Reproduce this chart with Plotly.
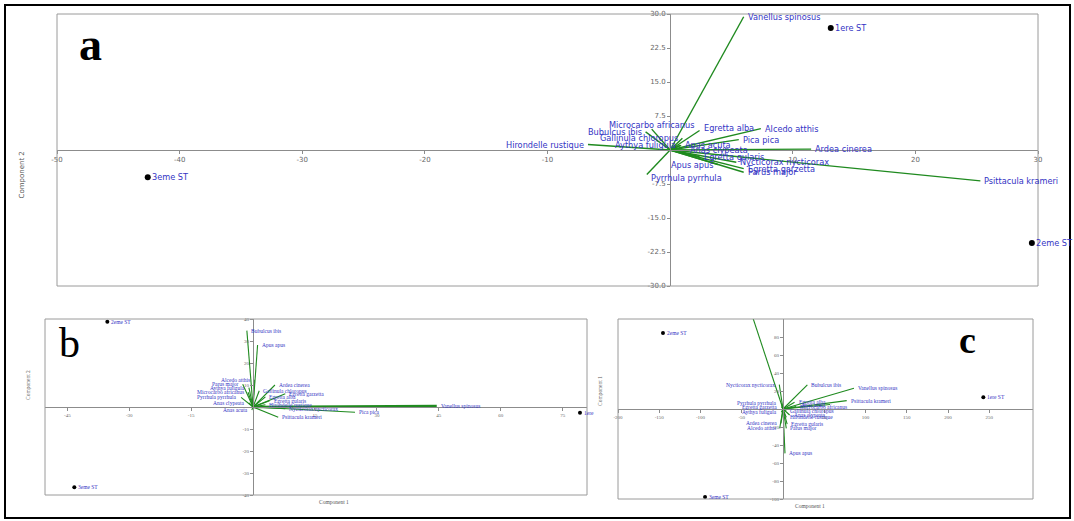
import plotly.graph_objects as go

W, H = 1074, 521

# ---------------- Panel a data ----------------
A_species = ["Vanellus spinosus", "Microcarbo africanus", "Egretta alba", "Alcedo atthis",
             "Bubulcus ibis", "Pica pica", "Gallinula chloropus", "Hirondelle rustique",
             "Aythya fuligula", "Anas acuta", "Anas clypeata", "Ardea cinerea",
             "Egretta gularis", "Nycticorax nycticorax", "Apus apus", "Egretta garzetta",
             "Parus major", "Pyrrhula pyrrhula", "Psittacula krameri"]
A_x = [6.0, -1.5, 2.4, 7.4, -2.0, 5.6, 1.0, -6.7, 0.8, 0.9, 1.3, 11.5, 2.4, 5.4, 3.9, 6.0, 6.0, -1.9, 25.3]
A_y = [29.4, 4.6, 4.3, 4.7, 4.0, 2.3, 2.6, 1.2, 1.0, 1.0, -0.1, 0.2, -1.5, -2.7, -3.2, -4.1, -4.9, -5.4, -6.8]
A_side = ["l", "c", "l", "l", "r", "l", "r", "r", "r", "l", "l", "l", "l", "l", "r", "l", "l", "l", "l"]
A_sites = ["1ere ST", "2eme ST", "3eme ST"]
A_site_x = [13.1, 29.5, -42.6]
A_site_y = [26.9, -20.5, -6.0]
A_xticks = [-50, -40, -30, -20, -10, 10, 20, 30]
A_yticks = [-30, -22.5, -15, -7.5, 7.5, 15, 22.5, 30]

# ---------------- Panel b data ----------------
B_species = ["Bubulcus ibis", "Apus apus", "Alcedo atthis", "Parus major", "Aythya fuligula",
             "Microcarbo africanus", "Pyrrhula pyrrhula", "Anas clypeata", "Anas acuta",
             "Ardea cinerea", "Gallinula chloropus", "Egretta garzetta", "Egretta alba",
             "Egretta gularis", "Hirondelle rustique", "Nycticorax nycticorax", "Pica pica",
             "Psittacula krameri", "Vanellus spinosus"]
B_x = [-1.5, 1.1, 0.3, -2.5, -1.0, -1.2, -2.9, -1.0, -0.3, 5.3, 1.5, 7.8, 3.0, 4.0, 3.0, 7.8, 24.7, 6.1, 44.5]
B_y = [34.7, 28.2, 12.4, 10.3, 8.8, 6.7, 4.4, 1.9, -1.4, 10.0, 7.4, 6.0, 4.6, 2.8, 1.0, -0.8, -2.4, -4.7, 0.4]
B_side = ["l", "l", "r", "r", "r", "r", "r", "r", "r", "l", "l", "l", "l", "l", "l", "l", "l", "l", "l"]
B_sites = ["2eme ST", "3eme ST", "1ere"]
B_site_x = [-35.3, -43.3, 79.2]
B_site_y = [38.8, -36.5, -2.6]
B_xticks = [-45, -30, -15, 15, 30, 45, 60, 75]
B_yticks = [-40, -30, -20, -10, 10, 20, 30, 40]

# ---------------- Panel c data ----------------
C_species = ["", "Nycticorax nycticorax", "Bubulcus ibis", "Vanellus spinosus", "Psittacula krameri",
             "Apus apus", "Pyrrhula pyrrhula", "Egretta garzetta", "Aythya fuligula", "Ardea cinerea",
             "Alcedo atthis", "Egretta alba", "Microcarbo africanus", "Gallinula chloropus",
             "Anas clypeata", "Hirondelle rustique", "Egretta gularis", "Parus major", "Anas acuta"]
C_x = [-40.0, -4.5, 29.5, 86.0, 77.2, 2.4, -2.0, -2.0, -2.0, -2.5, -4.0, 14.0, 16.0, 4.0, 8.0, 4.0, 5.0, 4.0, 57.0]
C_y = [111.0, 27.0, 26.7, 23.0, 9.3, -49.3, 6.3, 2.6, -3.7, -16.0, -21.5, 7.4, 2.6, -1.7, -6.7, -9.3, -16.7, -21.5, 5.0]
C_side = ["l", "r", "l", "l", "l", "l", "r", "r", "r", "r", "r", "l", "l", "l", "l", "l", "l", "l", "r"]
C_sites = ["2eme ST", "3eme ST", "1ere ST"]
C_site_x = [-145.5, -94.5, 242.8]
C_site_y = [84.4, -97.8, 13.0]
C_xticks = [-200, -150, -100, -50, 50, 100, 150, 200, 250]
C_yticks = [-100, -80, -60, -40, -20, 20, 40, 60, 80]

GREEN = "#1f8a1f"
BLUE = "#3434c4"
AXC = "#8c8c8c"


def px(x):
    return x / W


def py(y):
    return 1 - y / H


panels = {
    "a": dict(box=(57, 14, 1038, 286), xr=[-50, 30], yr=[-30, 30], ax="", font="DejaVu Sans",
              lsize=8.2, tsize=7, xfmt="{:g}", yfmt="{:.1f}", lw=1.4, msize=6,
              species=A_species, x=A_x, y=A_y, side=A_side,
              sites=A_sites, sx=A_site_x, sy=A_site_y, xt=A_xticks, yt=A_yticks),
    "b": dict(box=(45, 319, 587, 495), xr=[-50.4, 80.9], yr=[-40, 40], ax="2", font="Liberation Serif",
              lsize=5.5, tsize=5, xfmt="{:g}", yfmt="{:g}", lw=1.1, msize=4,
              species=B_species, x=B_x, y=B_y, side=B_side,
              sites=B_sites, sx=B_site_x, sy=B_site_y, xt=B_xticks, yt=B_yticks),
    "c": dict(box=(618, 319, 1033, 499), xr=[-200, 303], yr=[-100, 100], ax="3", font="Liberation Serif",
              lsize=5.5, tsize=5, xfmt="{:g}", yfmt="{:g}", lw=1.1, msize=4,
              species=C_species, x=C_x, y=C_y, side=C_side,
              sites=C_sites, sx=C_site_x, sy=C_site_y, xt=C_xticks, yt=C_yticks),
}

fig = go.Figure()
layout = dict(width=W, height=H, margin=dict(l=0, r=0, t=0, b=0, pad=0), autosize=False,
              paper_bgcolor="white", plot_bgcolor="white", showlegend=False)
annotations = []
shapes = []

for key, p in panels.items():
    x0, y0, x1, y1 = p["box"]
    xd = [px(x0), px(x1)]
    yd = [py(y1), py(y0)]
    xr, yr = p["xr"], p["yr"]
    xzero = xd[0] + (0 - xr[0]) / (xr[1] - xr[0]) * (xd[1] - xd[0])
    yzero = yd[0] + (0 - yr[0]) / (yr[1] - yr[0]) * (yd[1] - yd[0])
    xa = "x" + p["ax"]
    ya = "y" + p["ax"]
    tfont = dict(family=p["font"], size=p["tsize"], color="#666666")
    layout["xaxis" + p["ax"]] = dict(domain=xd, range=xr, anchor="free", position=yzero,
                                     showgrid=False, zeroline=False, showline=True,
                                     linecolor=AXC, linewidth=1, ticks="outside", ticklen=3,
                                     tickcolor=AXC, tickvals=p["xt"],
                                     ticktext=[p["xfmt"].format(v) for v in p["xt"]],
                                     tickfont=tfont, automargin=False)
    layout["yaxis" + p["ax"]] = dict(domain=yd, range=yr, anchor="free", position=xzero,
                                     showgrid=False, zeroline=False, showline=True,
                                     linecolor=AXC, linewidth=1, ticks="outside", ticklen=3,
                                     tickcolor=AXC, tickvals=p["yt"],
                                     ticktext=[p["yfmt"].format(v) for v in p["yt"]],
                                     tickfont=tfont, automargin=False)
    shapes.append(dict(type="rect", xref="paper", yref="paper", x0=xd[0], x1=xd[1],
                       y0=yd[0], y1=yd[1], line=dict(color="#9a9a9a", width=1)))

    # vectors
    for name, vx, vy in zip(p["species"], p["x"], p["y"]):
        w = p["lw"]
        if key == "b" and name == "Vanellus spinosus":
            w = 2.6
        fig.add_trace(go.Scatter(x=[0, vx], y=[0, vy], mode="lines", xaxis=xa, yaxis=ya,
                                 line=dict(color=GREEN, width=w), hoverinfo="skip"))
    # vector labels
    for name, vx, vy, s in zip(p["species"], p["x"], p["y"], p["side"]):
        if not name:
            continue
        anchor = {"l": "left", "r": "right", "c": "center"}[s]
        xs = {"l": 2, "r": -2, "c": 0}[s]
        ys = 0
        if s == "c":
            ys = 4
        if name in ("Pyrrhula pyrrhula",) and key == "a":
            ys = -4
        if name == "Egretta alba" and key == "a":
            ys = 3
        annotations.append(dict(x=vx, y=vy, xref=xa, yref=ya, text=name, showarrow=False,
                                xanchor=anchor, yanchor="middle", xshift=xs, yshift=ys,
                                font=dict(family=p["font"], size=p["lsize"], color=BLUE)))
    # sites
    fig.add_trace(go.Scatter(x=p["sx"], y=p["sy"], mode="markers", xaxis=xa, yaxis=ya,
                             marker=dict(color="black", size=p["msize"]), cliponaxis=False,
                             hoverinfo="skip"))
    for name, sx, sy in zip(p["sites"], p["sx"], p["sy"]):
        annotations.append(dict(x=sx, y=sy, xref=xa, yref=ya, text=name, showarrow=False,
                                xanchor="left", yanchor="middle", xshift=2,
                                font=dict(family=p["font"], size=p["lsize"], color=BLUE)))

# axis titles
annotations += [
    dict(x=px(15), y=py(150), xref="paper", yref="paper", text="Component 2", showarrow=False,
         textangle=-90, font=dict(family="DejaVu Sans", size=7, color="#555555")),
    dict(x=px(23), y=py(402), xref="paper", yref="paper", text="Component 2", showarrow=False,
         textangle=-90, font=dict(family="Liberation Serif", size=5.5, color="#555555")),
    dict(x=px(317), y=py(507), xref="paper", yref="paper", text="Component 1", showarrow=False,
         font=dict(family="Liberation Serif", size=5.5, color="#555555")),
    dict(x=px(600), y=py(408), xref="paper", yref="paper", text="Component 1", showarrow=False,
         textangle=-90, font=dict(family="Liberation Serif", size=5.5, color="#555555")),
    dict(x=px(827), y=py(511), xref="paper", yref="paper", text="Component 1", showarrow=False,
         font=dict(family="Liberation Serif", size=5.5, color="#555555")),
    # panel letters
    dict(x=px(77), y=py(17), xref="paper", yref="paper", text="<b>a</b>", showarrow=False,
         font=dict(family="Liberation Serif", size=46, color="black")),
    dict(x=px(57), y=py(343), xref="paper", yref="paper", text="b", showarrow=False,
         font=dict(family="Liberation Serif", size=42, color="black")),
    dict(x=px(978), y=py(340), xref="paper", yref="paper", text="<b>c</b>", showarrow=False,
         font=dict(family="Liberation Serif", size=38, color="black")),
]

# outer frame
shapes.append(dict(type="rect", xref="paper", yref="paper", x0=px(5), x1=px(1070),
                   y0=py(518), y1=py(5), line=dict(color="black", width=2)))

layout["annotations"] = annotations
layout["shapes"] = shapes
fig.update_layout(**layout)
fig.write_html("out.html", config={"responsive": False, "displayModeBar": False},
               post_script="document.body.style.margin='0';document.body.style.padding='0';"
                           "document.body.style.overflow='hidden';")
